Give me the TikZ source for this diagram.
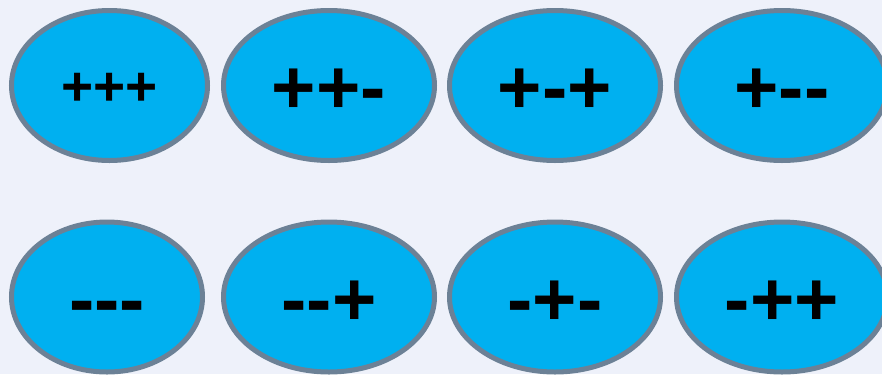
\documentclass[tikz,border=0pt]{standalone}
\usepackage{fontspec}
\newfontfamily\signfont{Liberation Sans}[Ligatures=TeXOff]
\usepackage{tikz}
\usetikzlibrary{shapes.geometric}

\definecolor{bgpale}{HTML}{EEF1FA}
\definecolor{blobfill}{HTML}{00B0F0}
\definecolor{blobline}{HTML}{6C8196}

\begin{document}
\begin{tikzpicture}[x=1bp,y=-1bp,
    blob/.style={ellipse,draw=blobline,fill=blobfill,line width=5bp,inner sep=0pt,
      minimum width=211bp,minimum height=150bp,
      font=\signfont\bfseries\fontsize{76bp}{80bp}\selectfont,
      text height=56bp,text depth=0bp},
    smallsign/.style={font=\signfont\bfseries\fontsize{55bp}{60bp}\selectfont,
      text height=40bp,text depth=0bp}]
  \fill[bgpale] (0,0) rectangle (882,374);
  \useasboundingbox (0,0) rectangle (882,374);
  % top row
  \node[blob,smallsign,minimum width=196bp] (ppp) at (109.5,85.5) {+++};
  \node[blob] (ppm) at (329,85.5) {++-};
  \node[blob] (pmp) at (555,85.5) {+-+};
  \node[blob] (pmm) at (782,85.5) {+--};
  % bottom row
  \node[blob,minimum width=191bp] (mmm) at (107,297) {---};
  \node[blob] (mmp) at (329,297) {--+};
  \node[blob] (mpm) at (555,297) {-+-};
  \node[blob] (mpp) at (782,297) {-++};
\end{tikzpicture}
\end{document}
